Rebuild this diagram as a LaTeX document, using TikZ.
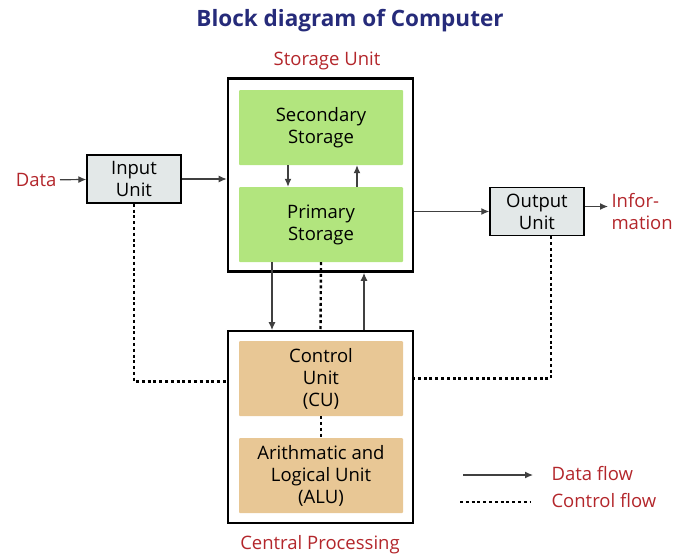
\documentclass[tikz,border=0pt]{standalone}
\usepackage{fontspec}
\setmainfont{Open Sans}
\usepackage{tikz}
\usetikzlibrary{positioning,arrows.meta,calc}
\definecolor{titleblue}{HTML}{262B7A}
\definecolor{labelred}{HTML}{B3262B}
\definecolor{storegreen}{HTML}{B2E57E}
\definecolor{cputan}{HTML}{E8C795}
\definecolor{iofill}{HTML}{E3E8E8}
\tikzset{
  flow/.style={-{Latex[length=8pt,width=7pt]}, line width=1.2pt, color=black!75},
  ctrl/.style={line width=2.4pt, dash pattern=on 3pt off 2.8pt},
  outer/.style={rectangle, draw, minimum width=185pt},
  inner/.style={rectangle, rounded corners=1pt, minimum width=164pt, minimum height=75pt, align=center, font=\fontsize{18.5}{22}\selectfont},
  iobox/.style={rectangle, draw, line width=1.4pt, fill=iofill, minimum width=94pt, minimum height=48pt, align=center, font=\fontsize{18.5}{22}\selectfont},
  lbl/.style={text=labelred, font=\fontsize{18.5}{22}\selectfont, align=left}
}
\begin{document}
\begin{tikzpicture}[x=1pt, y=-1pt]
\useasboundingbox (0,0) rectangle (677,555);
\node[text=titleblue, font=\fontsize{22.5}{26}\selectfont\bfseries] (title) at (350,21) {Block diagram of Computer};
\node[lbl] (stlbl) at (327,61) {Storage Unit};
% storage unit
\node[outer, line width=2.6pt, minimum height=193pt] (storage) at (320.5,175) {};
\node[inner, fill=storegreen] (sec) at (321,127.5) {Secondary\\Storage};
\node[inner, fill=storegreen] (prim) at (321,224.5) {Primary\\Storage};
% central processing unit
\node[outer, line width=1.8pt, minimum height=192pt] (cpu) at (320.5,427) {};
\node[inner, fill=cputan] (cu) at (321,378.5) {Control\\Unit\\(CU)};
\node[inner, fill=cputan] (alu) at (321,475.5) {Arithmatic and\\Logical Unit\\(ALU)};
\node[lbl] (cpulbl) at (320,545) {Central Processing};
% input and output
\node[iobox] (input) at (134,179) {Input\\Unit};
\node[iobox] (output) at (537,211.5) {Output\\Unit};
\node[lbl, anchor=east] (data) at (60,180) {Data};
\node[lbl, anchor=west] (info) at (608,212) {Infor-\\mation};
% data flow
\draw[flow] (data) -- (input);
\draw[flow] (input.east) -- (input.east -| storage.west);
\draw[flow] (output.west -| storage.east) -- (output.west);
\draw[flow] ([yshift=5pt]output.east) -- ([yshift=5pt]output.east -| info.west);
\draw[flow] ([xshift=-33pt]sec.south) -- ([xshift=-33pt]sec.south |- prim.north);
\draw[flow] ([xshift=36pt]prim.north) -- ([xshift=36pt]prim.north |- sec.south);
\draw[flow] ([xshift=-49pt]prim.south) -- ([xshift=-49pt]prim.south |- cpu.north);
\draw[flow] ([xshift=43.5pt]cpu.north) -- ([xshift=43.5pt]cpu.north |- storage.south);
% control flow
\draw[ctrl] (prim.south) -- (cpu.north);
\draw[ctrl] (cu) -- (alu);
\draw[ctrl] (input.south) |- ([yshift=-3pt]cpu.west |- cu.west);
\draw[ctrl] ([xshift=14pt]output.south) |- (cpu.east |- cu.east);
% legend
\coordinate (dfa) at (463,475);
\coordinate (dfb) at (533,475);
\coordinate (cfa) at (460,502);
\coordinate (cfb) at (530,502);
\draw[flow] (dfa) -- (dfb);
\draw[ctrl] (cfa) -- (cfb);
\node[lbl, anchor=west] (dflbl) at (548,474) {Data flow};
\node[lbl, anchor=west] (cflbl) at (548,501) {Control flow};
\end{tikzpicture}
\end{document}
